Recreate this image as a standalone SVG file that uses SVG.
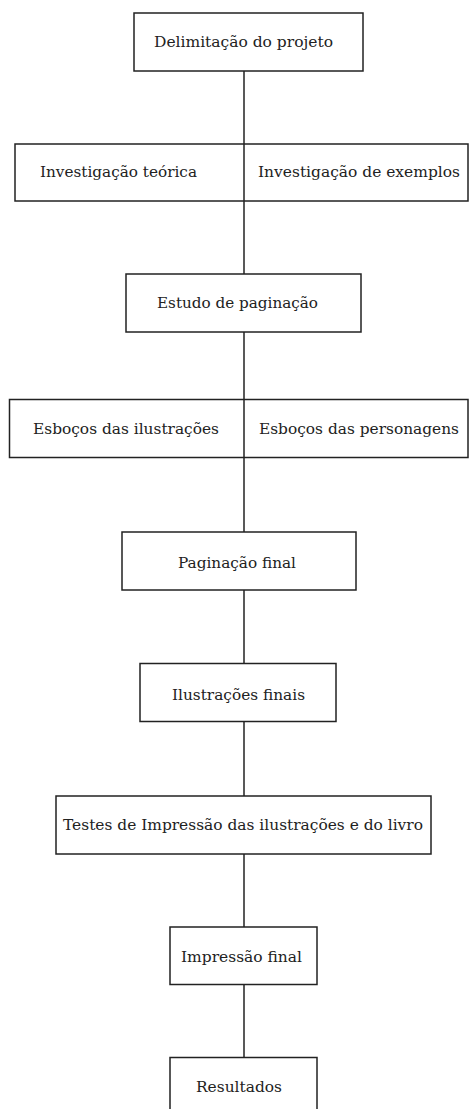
<svg xmlns="http://www.w3.org/2000/svg" width="469" height="1109" viewBox="0 0 469 1109">
<style>
.box{fill:#fff;stroke:#222;stroke-width:1.5}
.ln{stroke:#222;stroke-width:1.5;fill:none}
.t{font-family:"DejaVu Serif","Liberation Serif",serif;font-size:15.5px;fill:#222}
</style>
<rect width="469" height="1109" fill="#fff"/>
<g id="connectors">
<line class="ln" x1="244" y1="71" x2="244" y2="144"/>
<line class="ln" x1="244" y1="201" x2="244" y2="274"/>
<line class="ln" x1="244" y1="332" x2="244" y2="399.5"/>
<line class="ln" x1="244" y1="457.5" x2="244" y2="532"/>
<line class="ln" x1="244" y1="590" x2="244" y2="663.5"/>
<line class="ln" x1="244" y1="721.5" x2="244" y2="796"/>
<line class="ln" x1="244" y1="854" x2="244" y2="927"/>
<line class="ln" x1="244" y1="984.5" x2="244" y2="1057.5"/>
</g>
<g id="n1"><rect class="box" x="134" y="13" width="229" height="58"/><text class="t" x="154" y="46.5" textLength="179" lengthAdjust="spacingAndGlyphs">Delimitação do projeto</text></g>
<g id="n2"><rect class="box" x="15" y="144" width="453" height="57"/><line class="ln" x1="244" y1="144" x2="244" y2="201"/>
<text class="t" x="40" y="176.5" textLength="157" lengthAdjust="spacingAndGlyphs">Investigação teórica</text>
<text class="t" x="258" y="176.5" textLength="202" lengthAdjust="spacingAndGlyphs">Investigação de exemplos</text></g>
<g id="n3"><rect class="box" x="126" y="274" width="235" height="58"/><text class="t" x="157" y="308" textLength="161" lengthAdjust="spacingAndGlyphs">Estudo de paginação</text></g>
<g id="n4"><rect class="box" x="9.5" y="399.5" width="458.5" height="58"/><line class="ln" x1="244" y1="399.5" x2="244" y2="457.5"/>
<text class="t" x="33" y="433.5" textLength="186" lengthAdjust="spacingAndGlyphs">Esboços das ilustrações</text>
<text class="t" x="259" y="433.5" textLength="200" lengthAdjust="spacingAndGlyphs">Esboços das personagens</text></g>
<g id="n5"><rect class="box" x="122" y="532" width="234" height="58"/><text class="t" x="178" y="568" textLength="118" lengthAdjust="spacingAndGlyphs">Paginação final</text></g>
<g id="n6"><rect class="box" x="140" y="663.5" width="196" height="58"/><text class="t" x="172" y="700" textLength="133" lengthAdjust="spacingAndGlyphs">Ilustrações finais</text></g>
<g id="n7"><rect class="box" x="56" y="796" width="375" height="58"/><text class="t" x="63" y="829.5" textLength="360" lengthAdjust="spacingAndGlyphs">Testes de Impressão das ilustrações e do livro</text></g>
<g id="n8"><rect class="box" x="170" y="927" width="147" height="57.5"/><text class="t" x="181" y="962" textLength="121" lengthAdjust="spacingAndGlyphs">Impressão final</text></g>
<g id="n9"><rect class="box" x="170" y="1057.5" width="147" height="70"/><text class="t" x="196" y="1092" textLength="86" lengthAdjust="spacingAndGlyphs">Resultados</text></g>
</svg>
